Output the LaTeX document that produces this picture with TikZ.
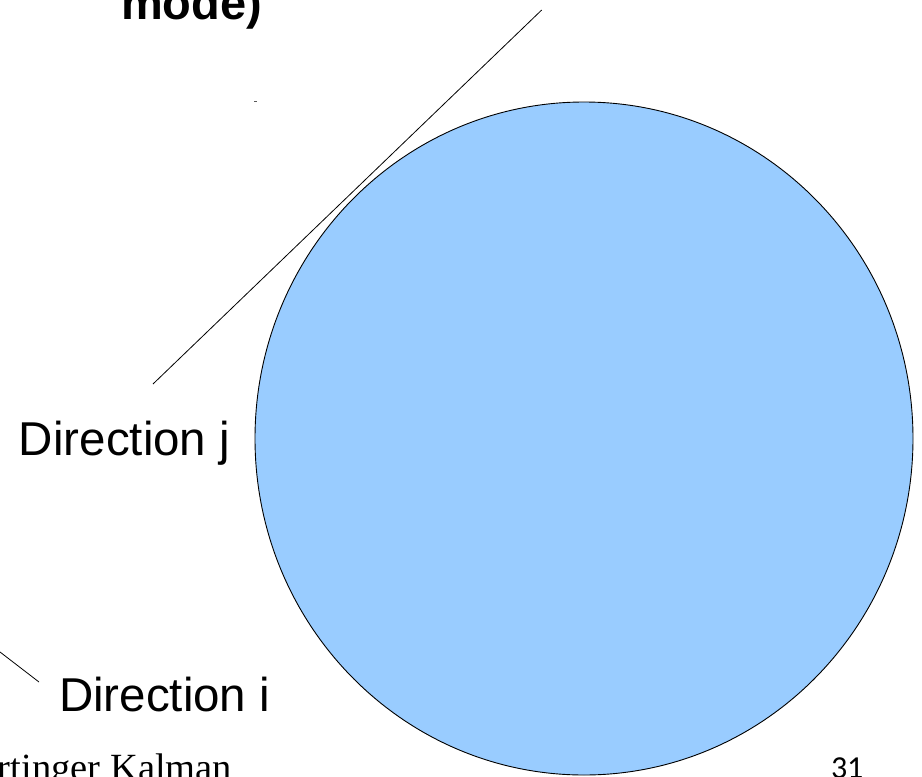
\documentclass[tikz,border=0pt]{standalone}
\usepackage{fontspec}
\setmainfont{Liberation Sans}
\newfontfamily\footserif{Liberation Serif}
\newfontfamily\footsans{Carlito}

\begin{document}
\begin{tikzpicture}[
    x=1pt, y=-1pt,
    every node/.style={inner sep=0pt, outer sep=0pt},
    label/.style={anchor=base west, font=\fontsize{47.5}{57}\selectfont},
    thinline/.style={line width=0.8pt, black},
]

% === Page frame ===
\useasboundingbox (0,0) rectangle (922,777);

% === Ball ===
\def\ballX{584}
\def\ballY{438.5}
\fill[fill={rgb,255:red,153;green,204;blue,255}, draw=black, line width=0.9pt]
    (\ballX,\ballY) ellipse [x radius=329, y radius=336.5];

% === Title rest (bold) ===
\node[label, font=\fontsize{47}{56}\selectfont\bfseries] (title) at (121,19) {mode)};

% === Direction lines ===
\coordinate (jtop) at (541.7,10);
\coordinate (jend) at (153,384);
\draw[thinline] (jtop) -- (jend);

\coordinate (istart) at (0,652);
\coordinate (iend) at (39,682);
\draw[thinline] (istart) -- (iend);

% small stray mark
\coordinate (marka) at (254,101);
\coordinate (markb) at (257,101);
\draw[line width=1pt, gray!70!black] (marka) -- (markb);

% === Labels ===
\node[label] (dirj) at (19,455) {Direction j};
\node[label] (diri) at (59,711) {Direction i};

% === Footer ===
\node[anchor=base west, font=\footserif\fontsize{38.5}{46}\selectfont] (foot) at (-2,780) {rtinger Kalman};
\node[anchor=base west, font=\footsans\fontsize{32}{38}\selectfont] (page) at (831,778) {31};

\end{tikzpicture}
\end{document}
